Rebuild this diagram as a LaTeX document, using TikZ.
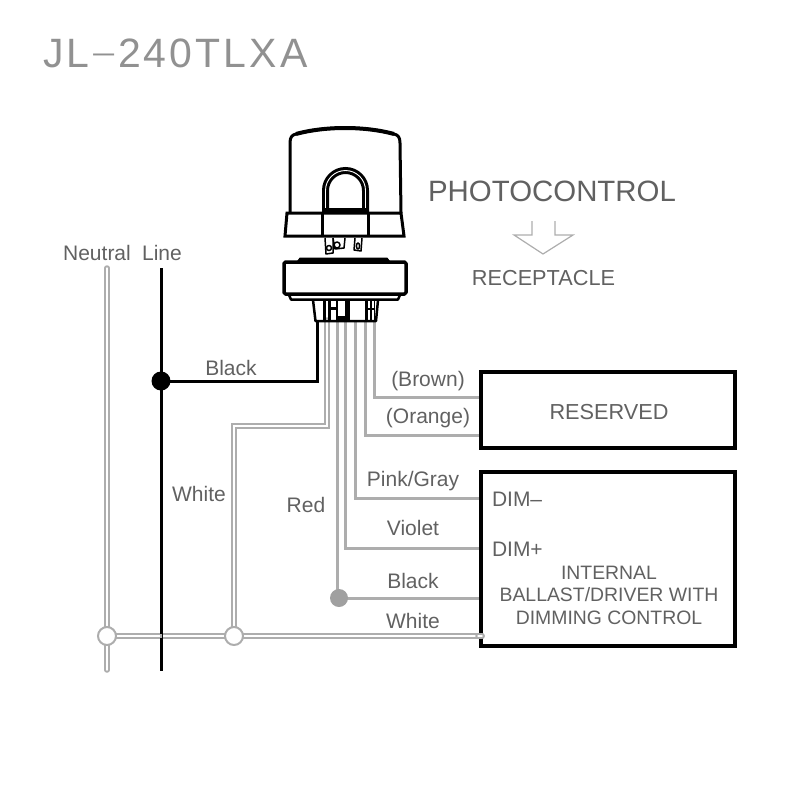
\documentclass[tikz,border=0pt]{standalone}
\usepackage{graphicx}
\usepackage{fontspec}
\setmainfont{Liberation Sans}
\tikzset{
  every node/.style={inner sep=0pt,outer sep=0pt,text=txt,font=\fontsize{21}{24}\selectfont},
  wire/.style={draw=wgray,line width=3pt,line cap=butt},
  dwire/.style={draw=wgray,line width=2pt,double=white,double distance=1.5pt,line cap=round,line join=miter},
  hot/.style={draw=black,line width=3pt},
  boxx/.style={draw=black,line width=3.5pt,minimum width=254pt},
  junc/.style={circle,draw=wgray,line width=2pt,fill=white,minimum size=18pt},
  dev/.style={draw=black,line width=3pt,line join=round},
  devt/.style={draw=black,line width=1.5pt,line join=round}
}
\definecolor{wgray}{gray}{0.68}
\definecolor{txt}{gray}{0.38}
\begin{document}
\begin{tikzpicture}[x=1pt,y=-1pt]
\useasboundingbox (0,0) rectangle (800,800);
% title
\node[anchor=base west,text={rgb,255:red,145;green,145;blue,145},font=\fontsize{41}{44}\selectfont\addfontfeatures{LetterSpace=7.5}] (title) at (43,67.5) {JL\raisebox{6pt}{\scalebox{2.1}[0.6]{-}}240TLXA};
% coordinates
\coordinate (jl) at (161,381);
\coordinate (jn) at (107,636);
\coordinate (jw) at (234,636);
\coordinate (jr) at (339,598);
\coordinate (nt) at (107,268);
\coordinate (nb) at (107,670);
\coordinate (lt) at (161,268);
\coordinate (lb) at (161,671);
\coordinate (sb) at (317,320);
\coordinate (sw) at (327,320);
\coordinate (sr) at (337,320);
\coordinate (sv) at (345,320);
\coordinate (sp) at (355,320);
\coordinate (so) at (365,320);
\coordinate (sn) at (374,320);
\coordinate (ew) at (482,636);
% wires
\draw[dwire] (nt) -- (nb);
\draw[dwire] (jn) -- (ew);
\draw[hot] (lt) -- (lb);
\draw[draw=wgray,line width=1.5pt] (161,634.4) -- (161,637.6);
\draw[dwire] (jw) |- (327,426) -- (sw);
\draw[hot] (jl) -- (317,381) -- (sb);
\draw[wire] (sr) -- (sr |- jr);
\draw[wire] (jr) -- (481,598);
\draw[wire] (sv) |- (481,548);
\draw[wire] (sp) |- (481,498);
\draw[wire] (so) |- (481,435);
\draw[wire] (sn) |- (481,397);
% boxes
\node[boxx,minimum height=76pt] (res) at (608,410) {};
\node[boxx,minimum height=174pt] (ball) at (608,559) {};
\draw[dwire] (478,636) -- (ew);
\node[font=\fontsize{21.7}{24}\selectfont] (restxt) at (609,412) {RESERVED};
\node[align=center,font=\fontsize{19.4}{22.5}\selectfont] (balltxt) at (609,595) {INTERNAL\\BALLAST/DRIVER WITH\\DIMMING CONTROL};
\node[anchor=base west] (dimm) at (492,506) {DIM–};
\node[anchor=base west] (dimp) at (492,556) {DIM+};
% junctions
\node[circle,fill=black,minimum size=19pt] (dotl) at (jl) {};
\node[circle,fill=wgray!92!black,minimum size=18pt] (dotr) at (jr) {};
\node[junc] (dotn) at (jn) {};
\node[junc] (dotw) at (jw) {};
% labels
\node (neutral) at (97,253) {Neutral};
\node (line) at (162,253) {Line};
\node (lblack) at (231,368) {Black};
\node (lwhite) at (199,494) {White};
\node (lred) at (306,505) {Red};
\node (lbrown) at (428,381) {(Brown)};
\node (lorange) at (428,418.5) {(Orange)};
\node (lpink) at (413,481) {Pink/Gray};
\node (lviolet) at (413,528) {Violet};
\node (lblack2) at (413,581) {Black};
\node (lwhite2) at (413,620.5) {White};
\node[font=\fontsize{29.4}{32}\selectfont] (photo) at (552,191) {PHOTOCONTROL};
\node[font=\fontsize{21.7}{24}\selectfont] (recep) at (543.5,278) {RECEPTACLE};
% open arrow
\draw[draw=wgray,line width=1.2pt,line join=miter] (532,221) -- (532,235) -- (514,235) -- (543,254) -- (573,235) -- (555,235) -- (555,221);
% photocontrol
\draw[dev] (290,213) -- (290,143) .. controls (290,137) and (292,135) .. (296,134) .. controls (325,126) and (365,126) .. (394,134) .. controls (398,135) and (400,137) .. (400,143) -- (401,213);
\draw[dev,line width=4pt] (296,134) .. controls (325,126) and (365,126) .. (394,134);
\draw[dev,line join=miter] (287,213) -- (285,236) -- (404,236) -- (401,213) -- cycle;
\draw[dev] (322.5,213) -- (322.5,236);
\draw[dev] (368,213) -- (368,236);
\draw[black,line width=7pt] (325.5,213) -- (325.5,190.5) arc[start angle=180,end angle=360,radius=20] -- (365.5,213);
\draw[white,line width=0.9pt] (325.5,208) -- (325.5,190.5) arc[start angle=180,end angle=360,radius=20] -- (365.5,208);
\draw[black,line width=4.5pt] (325,210.5) -- (366,210.5);
% prongs
\draw[devt,fill=white] (325,238) -- (326,254) -- (333,253) -- (333,238);
\draw[devt,fill=white] (333,238) -- (335,249) -- (344,248) -- (345,238);
\draw[devt,fill=white] (355,238) -- (354,250) -- (361,251) -- (362,238);
\draw[devt] (329,248) circle[radius=2.5];
\draw[devt] (337,245) circle[radius=3];
\draw[devt] (358,246) ellipse[x radius=1.6,y radius=3];
% receptacle
\draw[black,fill=black,line join=round,line width=1pt] (297,262) -- (300,258) -- (387,258) -- (390,262) -- cycle;
\draw[dev,line join=round,line width=3.5pt,rounded corners=1.5pt] (284,262) rectangle (406,294);
\draw[devt,line width=2.5pt] (289,295) -- (291,299.5) -- (398,299.5) -- (400,295);
\draw[devt,line width=2.5pt] (313,300) -- (315.5,321) -- (376,321) -- (378,300);
\foreach \xa/\xb in {323/325.5,328/331,336/338,345/350,365/368,370/372,373.5/375}{
  \fill[black] (\xa,300) rectangle (\xb,321);
}
\fill[black] (328,307) rectangle (338,310);
\fill[black] (338,316) rectangle (350,321);
\fill[black] (365,308) rectangle (375,310);
\end{tikzpicture}
\end{document}
